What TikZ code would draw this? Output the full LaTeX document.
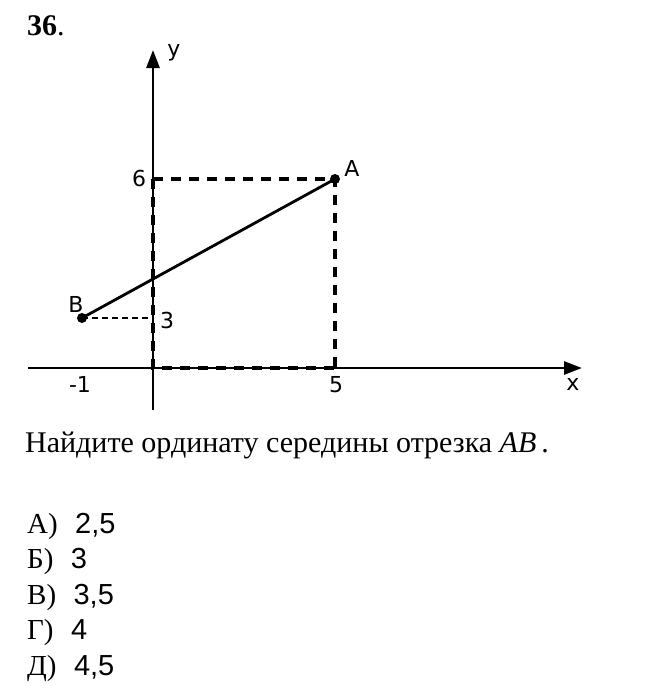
\documentclass[tikz,border=0pt]{standalone}
\usepackage{fontspec}
\setmainfont{Liberation Serif}
\newfontfamily\axisfont{DejaVu Sans}
\newfontfamily\numfont{Liberation Sans}
\usetikzlibrary{arrows.meta}
\tikzset{
  axisline/.style={line width=2.8pt, -{Triangle[length=18pt, width=13pt]}},
  guide/.style={line width=3.8pt, dash pattern=on 10pt off 8pt},
  guidesmall/.style={line width=2.4pt, dash pattern=on 6pt off 4pt},
  seg/.style={line width=2.8pt},
  tick/.style={font=\axisfont\fontsize{22}{22}\selectfont, inner sep=0pt},
  body/.style={font=\fontsize{30}{30}\selectfont, anchor=base west, inner sep=0pt},
  answer/.style={font=\fontsize{29}{29}\selectfont, anchor=base west, inner sep=0pt},
}

\begin{document}
\begin{tikzpicture}[x=1pt, y=-1pt]
  \useasboundingbox (0,0) rectangle (670,686);
  % axes
  \coordinate (O) at (153,368);
  \coordinate (xstart) at (28,368);
  \coordinate (xend) at (582,368);
  \coordinate (ystart) at (153,410);
  \coordinate (yend) at (153,50);
  \draw[axisline] (xstart) -- (xend);
  \draw[axisline] (ystart) -- (yend);
  % points and projections
  \coordinate (A) at (335,179);
  \coordinate (B) at (82,318);
  \coordinate (A6) at (153,179);
  \coordinate (A5) at (335,368);
  \coordinate (B3) at (153,318);
  \draw[guide] (A6) -- (A) -- (A5);
  \draw[guide] (A6) -- (O) -- (A5);
  \draw[guidesmall] (B) -- (B3);
  \draw[seg] (B) -- (A);
  \fill (A) circle (5);
  \fill (B) circle (5);
  % labels
  \node[tick] (lx) at (573,384) {x};
  \node[tick] (ly) at (174,53) {y};
  \node[tick] (l6) at (139,178) {6};
  \node[tick] (l3) at (167,320) {3};
  \node[tick] (lm1) at (80,384) {-1};
  \node[tick] (l5) at (336,385) {5};
  \node[tick] (lA) at (352,168) {A};
  \node[tick] (lB) at (76,304) {B};
  % task text
  \node[body] (num) at (27,35) {\textbf{36}.};
  \node[body] (task) at (25,452) {Найдите ординату середины отрезка \textit{AB}\,.};
  \foreach \k/\t/\v in {0/А)/{2,5}, 1/Б)/3, 2/В)/{3,5}, 3/Г)/4, 4/Д)/{4,5}} {
    \node[answer] (ans\k) at (27,533+\k*35.5) {\t\hspace{0.6em}{\numfont\v}};
  }
\end{tikzpicture}
\end{document}
